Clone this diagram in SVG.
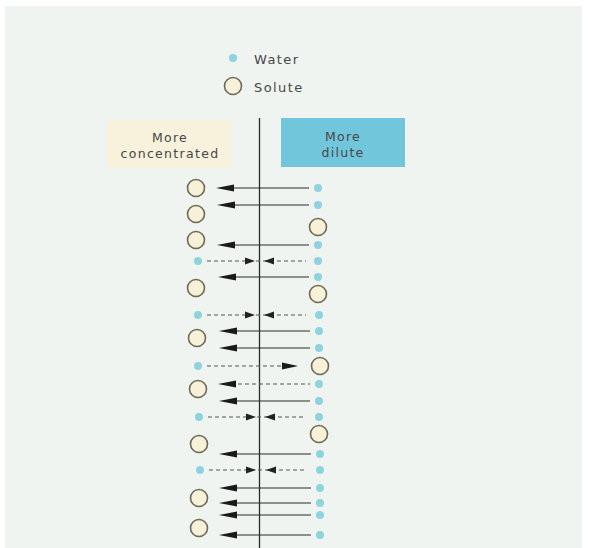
<svg xmlns="http://www.w3.org/2000/svg" width="592" height="548" viewBox="0 0 592 548">
<defs>
<style>
.water{fill:#8fd3e0}
.solute{fill:#f8f1da;stroke:#6d6a55;stroke-width:1.6}
.sol{stroke:#2a2a2a;stroke-width:1.1;fill:none}
.dash{stroke:#555;stroke-width:1.1;stroke-dasharray:4 3;fill:none}
.head{fill:#1a1a1a}
.shead{fill:#222}
.lbl{font-family:"DejaVu Sans","Liberation Sans",sans-serif;font-size:12.5px;letter-spacing:1.3px;fill:#474747;text-anchor:middle}
.leg{font-family:"DejaVu Sans","Liberation Sans",sans-serif;font-size:13px;letter-spacing:1.4px;fill:#474747}
</style>
</defs>
<rect x="0" y="0" width="592" height="548" fill="#ffffff"/>
<rect x="5" y="6" width="577" height="542" fill="#eff4f1"/>

<g id="legend">
<circle class="water" cx="233" cy="58" r="4"/>
<text class="leg" x="254" y="64">Water</text>
<circle class="solute" cx="233" cy="86" r="8.5"/>
<text class="leg" x="254" y="92">Solute</text>
</g>

<g id="box-concentrated">
<rect x="107" y="120" width="124" height="48" fill="#f8f1dc"/>
<text class="lbl" x="170" y="142">More</text>
<text class="lbl" x="170" y="158">concentrated</text>
</g>

<g id="box-dilute">
<rect x="281" y="118" width="124" height="49" fill="#72c6dc"/>
<text class="lbl" x="343" y="141">More</text>
<text class="lbl" x="343" y="157">dilute</text>
</g>

<g id="membrane">
<line x1="259.5" y1="118" x2="259.5" y2="548" stroke="#2a2a2a" stroke-width="1.3"/>
</g>

<g id="left-particles">
<circle class="solute" cx="196" cy="188" r="8.5"/>
<circle class="solute" cx="196" cy="214" r="8.5"/>
<circle class="solute" cx="196" cy="240" r="8.5"/>
<circle class="water" cx="198" cy="261" r="4"/>
<circle class="solute" cx="196" cy="288" r="8.5"/>
<circle class="water" cx="198" cy="315" r="4"/>
<circle class="solute" cx="197" cy="338" r="8.5"/>
<circle class="water" cx="198" cy="366" r="4"/>
<circle class="solute" cx="198" cy="389" r="8.5"/>
<circle class="water" cx="199" cy="417" r="4"/>
<circle class="solute" cx="199" cy="444" r="8.5"/>
<circle class="water" cx="200" cy="470" r="4"/>
<circle class="solute" cx="199" cy="498" r="8.5"/>
<circle class="solute" cx="199" cy="528" r="8.5"/>
</g>

<g id="right-particles">
<circle class="water" cx="318" cy="188" r="4"/>
<circle class="water" cx="318" cy="205" r="4"/>
<circle class="solute" cx="318" cy="227" r="8.5"/>
<circle class="water" cx="318" cy="245" r="4"/>
<circle class="water" cx="318" cy="261" r="4"/>
<circle class="water" cx="318" cy="277" r="4"/>
<circle class="solute" cx="318" cy="294" r="8.5"/>
<circle class="water" cx="319" cy="315" r="4"/>
<circle class="water" cx="319" cy="331" r="4"/>
<circle class="water" cx="319" cy="348" r="4"/>
<circle class="solute" cx="320" cy="366" r="8.5"/>
<circle class="water" cx="319" cy="384" r="4"/>
<circle class="water" cx="319" cy="401" r="4"/>
<circle class="water" cx="319" cy="417" r="4"/>
<circle class="solute" cx="319" cy="434" r="8.5"/>
<circle class="water" cx="320" cy="454" r="4"/>
<circle class="water" cx="320" cy="470" r="4"/>
<circle class="water" cx="320" cy="488" r="4"/>
<circle class="water" cx="320" cy="503" r="4"/>
<circle class="water" cx="320" cy="515" r="4"/>
<circle class="water" cx="320" cy="535" r="4"/>
</g>

<g id="connectors">
<g class="solid-arrows">
<line class="sol" x1="232" y1="188" x2="309" y2="188"/><polygon class="head" points="216,188 234,184.5 234,191.5"/>
<line class="sol" x1="232" y1="205" x2="309" y2="205"/><polygon class="head" points="217,205 235,201.5 235,208.5"/>
<line class="sol" x1="232" y1="245" x2="309" y2="245"/><polygon class="head" points="217,245 235,241.5 235,248.5"/>
<line class="sol" x1="232" y1="277" x2="309" y2="277"/><polygon class="head" points="218,277 236,273.5 236,280.5"/>
<line class="sol" x1="234" y1="331" x2="310" y2="331"/><polygon class="head" points="219,331 237,327.5 237,334.5"/>
<line class="sol" x1="234" y1="348" x2="310" y2="348"/><polygon class="head" points="219,348 237,344.5 237,351.5"/>
<line class="dash" x1="238" y1="384" x2="310" y2="384"/><polygon class="head" points="218,384 236,380.5 236,387.5"/>
<line class="sol" x1="234" y1="401" x2="310" y2="401"/><polygon class="head" points="219,401 237,397.5 237,404.5"/>
<line class="sol" x1="234" y1="454" x2="311" y2="454"/><polygon class="head" points="219,454 237,450.5 237,457.5"/>
<line class="sol" x1="234" y1="488" x2="311" y2="488"/><polygon class="head" points="219,488 237,484.5 237,491.5"/>
<line class="sol" x1="234" y1="503" x2="311" y2="503"/><polygon class="head" points="219,503 237,499.5 237,506.5"/>
<line class="sol" x1="234" y1="515" x2="311" y2="515"/><polygon class="head" points="219,515 237,511.5 237,518.5"/>
<line class="sol" x1="234" y1="535" x2="311" y2="535"/><polygon class="head" points="219,535 237,531.5 237,538.5"/>
</g>
<g class="dashed-arrows">
<line class="dash" x1="207" y1="261" x2="306" y2="261"/>
<polygon class="shead" points="255,261 245,257.5 245,264.5"/><polygon class="shead" points="264,261 274,257.5 274,264.5"/>
<line class="dash" x1="207" y1="315" x2="306" y2="315"/>
<polygon class="shead" points="255,315 245,311.5 245,318.5"/><polygon class="shead" points="264,315 274,311.5 274,318.5"/>
<line class="dash" x1="207" y1="366" x2="296" y2="366"/>
<polygon class="head" points="298,366 282,362.5 282,369.5"/>
<line class="dash" x1="208" y1="417" x2="306" y2="417"/>
<polygon class="shead" points="256,417 246,413.5 246,420.5"/><polygon class="shead" points="265,417 275,413.5 275,420.5"/>
<line class="dash" x1="209" y1="470" x2="307" y2="470"/>
<polygon class="shead" points="256,470 246,466.5 246,473.5"/><polygon class="shead" points="266,470 276,466.5 276,473.5"/>
</g>
</g>
</svg>
